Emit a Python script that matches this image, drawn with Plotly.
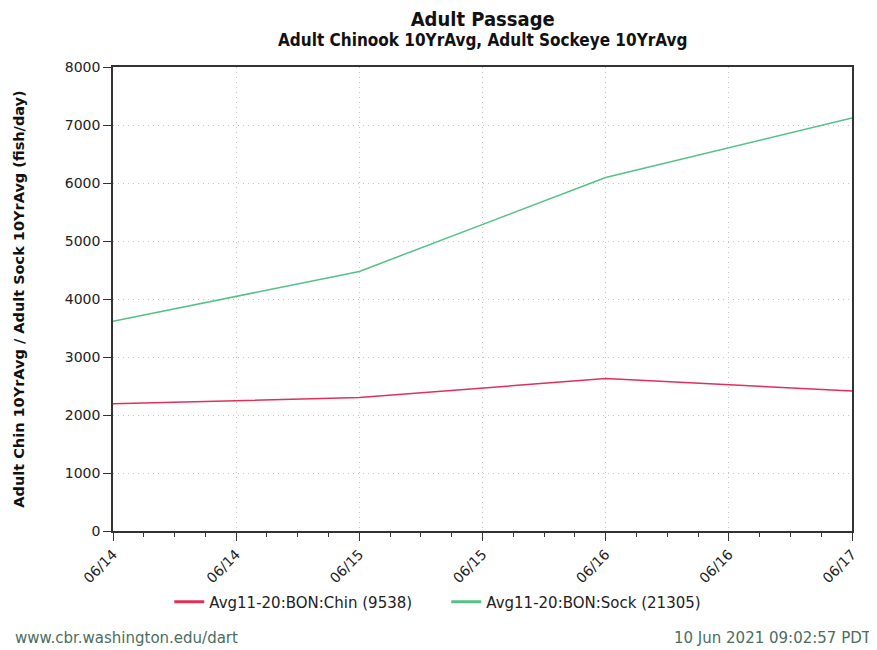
import plotly.graph_objects as go

dates = ["2021-06-14", "2021-06-15", "2021-06-16", "2021-06-17"]
chinook = [2195, 2300, 2630, 2413]
sockeye = [3615, 4475, 6095, 7120]
chin_name = "Avg11-20:BON:Chin (9538)"
sock_name = "Avg11-20:BON:Sock (21305)"
title = "Adult Passage"
subtitle = "Adult Chinook 10YrAvg, Adult Sockeye 10YrAvg"

fig = go.Figure()
for name, vals, color in [(chin_name, chinook, "#e0305a"), (sock_name, sockeye, "#55c186")]:
    fig.add_trace(go.Scatter(x=dates, y=vals, mode="lines", name=name, showlegend=False,
                             legendgroup=name, line=dict(color=color, width=1.5)))
    # legend-only entry with a thicker swatch
    fig.add_trace(go.Scatter(x=[None], y=[None], mode="lines", name=name, legendgroup=name,
                             line=dict(color=color, width=3)))

tickfont = dict(family="DejaVu Sans", size=14, color="#222")
fig.update_layout(
    width=870, height=643,
    margin=dict(l=105, r=26, t=59, b=120),
    paper_bgcolor="white", plot_bgcolor="white",
    showlegend=True,
    legend=dict(orientation="h", x=0.451, xanchor="center", y=-0.153, yanchor="middle",
                font=dict(family="DejaVu Sans", size=15, color="#222"),
                itemwidth=30, entrywidth=232, traceorder="normal"),
    xaxis=dict(type="date", range=["2021-06-14", "2021-06-17"],
               dtick=43200000, tick0="2021-06-14", tickformat="%m/%d", tickangle=-45,
               tickfont=tickfont, ticks="outside", ticklen=8, tickcolor="#333",
               showline=True, linecolor="#333", linewidth=1.5, mirror=True,
               showgrid=True, gridcolor="#c4c4c4", griddash="1px,4px", zeroline=False,
               automargin=False,
               minor=dict(dtick=10800000, ticks="outside", ticklen=4, tickcolor="#333", showgrid=False)),
    yaxis=dict(range=[0, 8000], dtick=1000, tickfont=tickfont,
               ticks="outside", ticklen=8, tickcolor="#333",
               showline=True, linecolor="#333", linewidth=1.5, mirror=True,
               showgrid=True, gridcolor="#c4c4c4", griddash="1px,4px", zeroline=False,
               automargin=False,
               title=dict(text="<b>Adult Chin 10YrAvg / Adult Sock 10YrAvg (fish/day)</b>",
                          font=dict(family="DejaVu Sans", size=14.5, color="#111"), standoff=37)),
    annotations=[
        dict(text=f"<b><span style='font-size:20px'>{title}</span><br>"
                  f"<span style='font-size:17px'>{subtitle}</span></b>",
             x=0.5, y=1.084, xref="paper", yref="paper",
             xanchor="center", yanchor="middle", showarrow=False,
             font=dict(family="DejaVu Sans Condensed", size=15.2, color="#111")),
        dict(text="www.cbr.washington.edu/dart", x=-0.1353, y=-0.2306, xref="paper", yref="paper",
             xanchor="left", yanchor="middle", showarrow=False,
             font=dict(family="DejaVu Sans", size=15, color="#4a6e5e")),
        dict(text="10 Jun 2021 09:02:57 PDT", x=1.0298, y=-0.2306, xref="paper", yref="paper",
             xanchor="right", yanchor="middle", showarrow=False,
             font=dict(family="DejaVu Sans", size=15, color="#4a6e5e")),
    ],
)
fig.write_html("out.html")
